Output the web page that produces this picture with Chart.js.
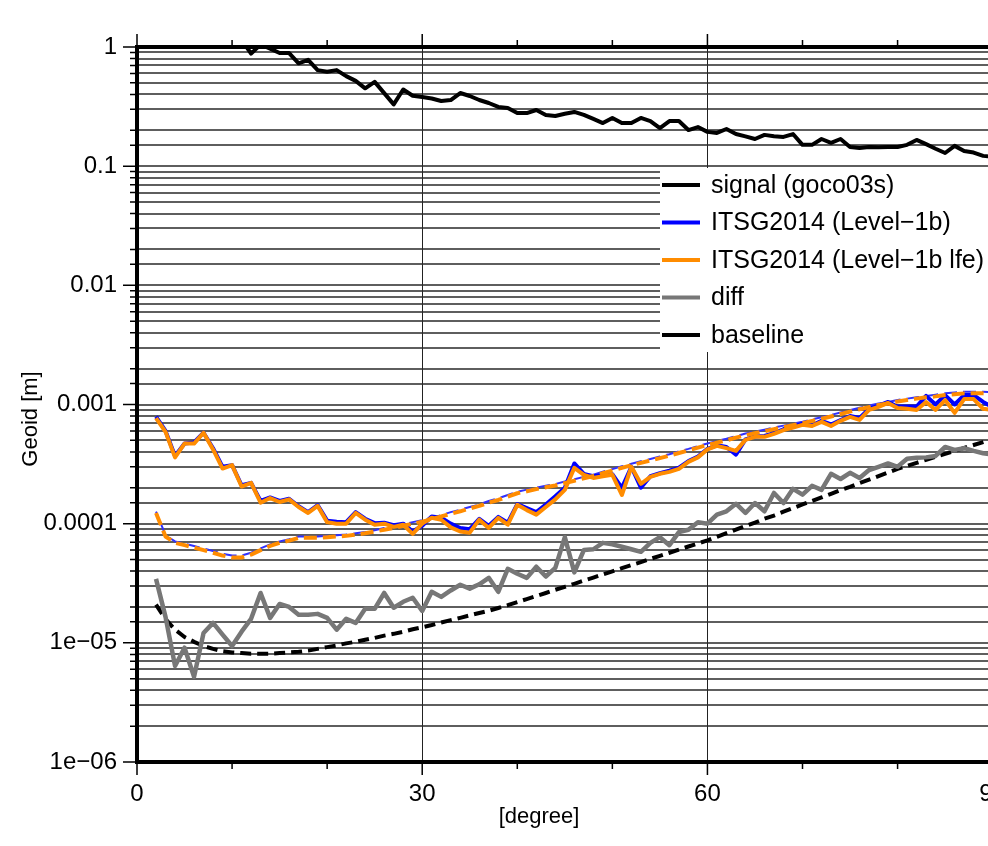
<!DOCTYPE html>
<html>
<head>
<meta charset="utf-8">
<script src="https://cdn.jsdelivr.net/npm/chart.js@4"></script>
<style>
  html, body { margin: 0; padding: 0; background: #fff; overflow: hidden; }
  canvas { display: block; }
</style>
</head>
<body>
<canvas id="myChart" width="1024" height="846"></canvas>
<script>
// degree axis (2..90)
const degrees = [2, 3, 4, 5, 6, 7, 8, 9, 10, 11, 12, 13, 14, 15, 16, 17, 18, 19, 20, 21,
  22, 23, 24, 25, 26, 27, 28, 29, 30, 31, 32, 33, 34, 35, 36, 37, 38, 39, 40, 41,
  42, 43, 44, 45, 46, 47, 48, 49, 50, 51, 52, 53, 54, 55, 56, 57, 58, 59, 60, 61,
  62, 63, 64, 65, 66, 67, 68, 69, 70, 71, 72, 73, 74, 75, 76, 77, 78, 79, 80, 81,
  82, 83, 84, 85, 86, 87, 88, 89, 90];

const signal = [30, 12, 6, 4, 3.2, 2.4, 1.9, 1.6, 1.35, 1.15,
  0.88, 1.05, 0.97, 0.89, 0.89, 0.73, 0.78, 0.64, 0.62, 0.64,
  0.57, 0.52, 0.45, 0.51, 0.41, 0.33, 0.44, 0.39, 0.38, 0.37,
  0.352, 0.359, 0.411, 0.388, 0.359, 0.339, 0.314, 0.308, 0.279, 0.279,
  0.296, 0.269, 0.264, 0.275, 0.285, 0.269, 0.249, 0.230, 0.254, 0.230,
  0.230, 0.254, 0.239, 0.209, 0.239, 0.239, 0.201, 0.213, 0.194, 0.190,
  0.205, 0.186, 0.178, 0.169, 0.183, 0.178, 0.176, 0.186, 0.151, 0.151,
  0.169, 0.157, 0.169, 0.145, 0.142, 0.145, 0.144, 0.145, 0.145, 0.151,
  0.166, 0.153, 0.14, 0.129, 0.148, 0.134, 0.13, 0.122, 0.12];

const level1b = [7.9e-4, 6.0e-4, 3.7e-4, 4.7e-4, 4.8e-4, 5.8e-4, 4.3e-4, 3.0e-4, 3.1e-4, 2.1e-4,
  2.2e-4, 1.55e-4, 1.66e-4, 1.55e-4, 1.62e-4, 1.4e-4, 1.25e-4, 1.43e-4, 1.06e-4, 1.04e-4,
  1.03e-4, 1.25e-4, 1.1e-4, 1.01e-4, 1.02e-4, 9.7e-5, 1.0e-4, 8.6e-5, 9.6e-5, 1.15e-4,
  1.12e-4, 1.0e-4, 9.2e-5, 9.0e-5, 1.1e-4, 9.6e-5, 1.14e-4, 1.02e-4, 1.46e-4, 1.35e-4,
  1.25e-4, 1.45e-4, 1.7e-4, 2.0e-4, 3.2e-4, 2.62e-4, 2.5e-4, 2.55e-4, 2.6e-4, 2.0e-4,
  3.0e-4, 2.0e-4, 2.5e-4, 2.65e-4, 2.78e-4, 2.95e-4, 3.35e-4, 3.65e-4, 4.25e-4, 4.55e-4,
  4.4e-4, 3.8e-4, 5.1e-4, 5.4e-4, 5.45e-4, 5.75e-4, 6.2e-4, 6.5e-4, 6.9e-4, 6.7e-4,
  7.3e-4, 6.8e-4, 7.4e-4, 8.0e-4, 7.7e-4, 9.2e-4, 9.8e-4, 1.05e-3, 9.6e-4, 9.6e-4,
  9.6e-4, 1.18e-3, 1.0e-3, 1.2e-3, 1.0e-3, 1.2e-3, 1.2e-3, 1.05e-3, 9.5e-4];

const level1bLfe = [7.7e-4, 5.9e-4, 3.6e-4, 4.7e-4, 4.7e-4, 5.8e-4, 4.2e-4, 2.9e-4, 3.1e-4, 2.05e-4,
  2.2e-4, 1.5e-4, 1.64e-4, 1.52e-4, 1.6e-4, 1.38e-4, 1.23e-4, 1.41e-4, 1.03e-4, 1.0e-4,
  1.0e-4, 1.23e-4, 1.08e-4, 9.8e-5, 1.0e-4, 9.4e-5, 9.8e-5, 8.2e-5, 1.0e-4, 1.12e-4,
  1.08e-4, 9.3e-5, 8.6e-5, 8.4e-5, 1.08e-4, 9.2e-5, 1.12e-4, 9.8e-5, 1.44e-4, 1.3e-4,
  1.19e-4, 1.38e-4, 1.6e-4, 1.92e-4, 2.94e-4, 2.57e-4, 2.42e-4, 2.5e-4, 2.57e-4, 1.74e-4,
  3.0e-4, 2.16e-4, 2.47e-4, 2.62e-4, 2.72e-4, 2.88e-4, 3.3e-4, 3.6e-4, 4.2e-4, 4.5e-4,
  4.3e-4, 4.08e-4, 5.05e-4, 5.35e-4, 5.35e-4, 5.67e-4, 6.1e-4, 6.4e-4, 6.75e-4, 6.6e-4,
  7.15e-4, 6.6e-4, 7.3e-4, 7.87e-4, 7.43e-4, 9.0e-4, 9.55e-4, 1.03e-3, 9.35e-4, 9.2e-4,
  9.0e-4, 1.05e-3, 9.0e-4, 1.09e-3, 8.5e-4, 1.11e-3, 1.11e-3, 9.2e-4, 9.0e-4];

// formal errors (dashed)
const level1bFormal = [1.26e-4, 8.0e-5, 7.1e-5, 6.8e-5, 6.5e-5, 6.2e-5, 5.9e-5, 5.6e-5, 5.4e-5, 5.4e-5,
  5.7e-5, 6.2e-5, 6.7e-5, 7.1e-5, 7.4e-5, 7.8e-5, 7.8e-5, 7.8e-5, 7.9e-5, 8.0e-5,
  8.1e-5, 8.3e-5, 8.5e-5, 8.8e-5, 9.2e-5, 9.5e-5, 9.9e-5, 1.03e-4, 1.07e-4, 1.12e-4,
  1.18e-4, 1.25e-4, 1.31e-4, 1.38e-4, 1.45e-4, 1.55e-4, 1.63e-4, 1.74e-4, 1.85e-4, 1.93e-4,
  2.01e-4, 2.08e-4, 2.15e-4, 2.26e-4, 2.36e-4, 2.47e-4, 2.58e-4, 2.73e-4, 2.87e-4, 3.03e-4,
  3.18e-4, 3.34e-4, 3.49e-4, 3.66e-4, 3.83e-4, 4.04e-4, 4.24e-4, 4.48e-4, 4.71e-4, 4.93e-4,
  5.16e-4, 5.43e-4, 5.7e-4, 5.91e-4, 6.14e-4, 6.4e-4, 6.65e-4, 6.91e-4, 7.18e-4, 7.5e-4,
  7.82e-4, 8.18e-4, 8.57e-4, 8.97e-4, 9.39e-4, 9.79e-4, 1.02e-3, 1.05e-3, 1.09e-3, 1.12e-3,
  1.15e-3, 1.18e-3, 1.21e-3, 1.24e-3, 1.26e-3, 1.28e-3, 1.28e-3, 1.28e-3, 1.27e-3];

const level1bLfeFormal = [1.23e-4, 7.8e-5, 6.9e-5, 6.6e-5, 6.3e-5, 6.0e-5, 5.7e-5, 5.4e-5, 5.2e-5, 5.2e-5,
  5.5e-5, 6.0e-5, 6.5e-5, 6.9e-5, 7.2e-5, 7.6e-5, 7.6e-5, 7.6e-5, 7.7e-5, 7.8e-5,
  7.9e-5, 8.1e-5, 8.3e-5, 8.6e-5, 8.9e-5, 9.2e-5, 9.6e-5, 1.0e-4, 1.04e-4, 1.09e-4,
  1.15e-4, 1.21e-4, 1.27e-4, 1.34e-4, 1.41e-4, 1.5e-4, 1.58e-4, 1.69e-4, 1.8e-4, 1.87e-4,
  1.95e-4, 2.02e-4, 2.09e-4, 2.19e-4, 2.29e-4, 2.4e-4, 2.51e-4, 2.65e-4, 2.79e-4, 2.94e-4,
  3.09e-4, 3.24e-4, 3.39e-4, 3.55e-4, 3.72e-4, 3.92e-4, 4.12e-4, 4.35e-4, 4.57e-4, 4.79e-4,
  5.01e-4, 5.27e-4, 5.53e-4, 5.74e-4, 5.96e-4, 6.21e-4, 6.46e-4, 6.71e-4, 6.97e-4, 7.28e-4,
  7.59e-4, 7.94e-4, 8.32e-4, 8.71e-4, 9.12e-4, 9.5e-4, 9.89e-4, 1.02e-3, 1.06e-3, 1.09e-3,
  1.12e-3, 1.15e-3, 1.17e-3, 1.2e-3, 1.22e-3, 1.24e-3, 1.24e-3, 1.24e-3, 1.23e-3];

const diff = [3.44e-5, 1.65e-5, 6.4e-6, 9.1e-6, 5.2e-6, 1.21e-5, 1.47e-5, 1.17e-5, 9.4e-6, 1.24e-5,
  1.59e-5, 2.62e-5, 1.62e-5, 2.12e-5, 2.0e-5, 1.72e-5, 1.72e-5, 1.75e-5, 1.62e-5, 1.29e-5,
  1.59e-5, 1.47e-5, 1.93e-5, 1.93e-5, 2.62e-5, 1.97e-5, 2.21e-5, 2.39e-5, 1.85e-5, 2.68e-5,
  2.43e-5, 2.75e-5, 3.07e-5, 2.85e-5, 3.1e-5, 3.51e-5, 2.68e-5, 4.18e-5, 3.8e-5, 3.51e-5,
  4.35e-5, 3.6e-5, 4.25e-5, 7.7e-5, 3.9e-5, 6.0e-5, 6.1e-5, 6.9e-5, 6.7e-5, 6.4e-5,
  6.1e-5, 5.8e-5, 6.9e-5, 7.7e-5, 6.6e-5, 8.5e-5, 8.9e-5, 1.03e-4, 1.0e-4, 1.19e-4,
  1.27e-4, 1.47e-4, 1.23e-4, 1.49e-4, 1.27e-4, 1.81e-4, 1.49e-4, 1.96e-4, 1.75e-4, 2.08e-4,
  1.92e-4, 2.62e-4, 2.37e-4, 2.67e-4, 2.42e-4, 2.82e-4, 3.0e-4, 3.2e-4, 3.0e-4, 3.5e-4,
  3.57e-4, 3.6e-4, 3.7e-4, 4.4e-4, 4.16e-4, 4.3e-4, 4.08e-4, 3.9e-4, 3.8e-4];

const baseline = [2.09e-5, 1.58e-5, 1.29e-5, 1.12e-5, 1.02e-5, 9.4e-6, 8.9e-6, 8.5e-6, 8.3e-6, 8.2e-6,
  8.1e-6, 8.1e-6, 8.1e-6, 8.2e-6, 8.3e-6, 8.4e-6, 8.6e-6, 8.9e-6, 9.2e-6, 9.5e-6,
  9.9e-6, 1.02e-5, 1.06e-5, 1.1e-5, 1.15e-5, 1.19e-5, 1.24e-5, 1.3e-5, 1.35e-5, 1.41e-5,
  1.48e-5, 1.55e-5, 1.62e-5, 1.7e-5, 1.78e-5, 1.86e-5, 1.96e-5, 2.07e-5, 2.2e-5, 2.33e-5,
  2.47e-5, 2.62e-5, 2.79e-5, 2.95e-5, 3.13e-5, 3.33e-5, 3.53e-5, 3.75e-5, 3.98e-5, 4.23e-5,
  4.49e-5, 4.76e-5, 5.06e-5, 5.37e-5, 5.7e-5, 6.05e-5, 6.43e-5, 6.82e-5, 7.24e-5, 7.76e-5,
  8.32e-5, 8.91e-5, 9.55e-5, 1.02e-4, 1.1e-4, 1.17e-4, 1.26e-4, 1.35e-4, 1.45e-4, 1.55e-4,
  1.66e-4, 1.78e-4, 1.91e-4, 2.04e-4, 2.19e-4, 2.34e-4, 2.51e-4, 2.69e-4, 2.88e-4, 3.05e-4,
  3.24e-4, 3.43e-4, 3.63e-4, 3.85e-4, 4.07e-4, 4.32e-4, 4.57e-4, 4.84e-4, 5.13e-4];

const xTickValues = [0, 30, 60, 90];
const yTickLabels = ['1e\u221206', '1e\u221205', '0.0001', '0.001', '0.01', '0.1', '1'];

const legendNames = ['signal (goco03s)', 'ITSG2014 (Level\u22121b)', 'ITSG2014 (Level\u22121b lfe)', 'diff', 'baseline'];
const legendColors = ['#000000', '#0000ff', '#ff8c00', '#777777', '#000000'];

const FONT = '"Liberation Sans", Arial, Helvetica, sans-serif';
const pts = vals => degrees.map((d, i) => ({ x: d, y: vals[i] }));
const isDecade = v => { const e = Math.log10(v); return Math.abs(e - Math.round(e)) < 1e-9; };

// legend box drawn inside the plot, on top of the grid
const legendBox = {
  id: 'legendBox',
  afterDatasetsDraw(chart) {
    const ctx = chart.ctx;
    ctx.save();
    ctx.fillStyle = '#fff';
    ctx.fillRect(660, 168, chart.width - 660, 184);
    ctx.font = '25px ' + FONT;
    ctx.textBaseline = 'middle';
    ctx.textAlign = 'left';
    legendNames.forEach((name, i) => {
      const y = 185 + i * 37.5;
      ctx.strokeStyle = legendColors[i];
      ctx.lineWidth = 4;
      ctx.beginPath();
      ctx.moveTo(662, y);
      ctx.lineTo(700, y);
      ctx.stroke();
      ctx.fillStyle = '#000';
      ctx.fillText(name, 711, y + 1);
    });
    ctx.restore();
  }
};

// outward tick marks (long on decades / multiples of 30) and the two axis titles
const axisDecor = {
  id: 'axisDecor',
  afterDraw(chart) {
    const ctx = chart.ctx;
    const { left, top, bottom } = chart.chartArea;
    const xs = chart.scales.x, ys = chart.scales.y;
    ctx.save();
    ctx.strokeStyle = '#000';
    ctx.lineWidth = 1.5;
    ctx.beginPath();
    ys.ticks.forEach(t => {
      const y = ys.getPixelForValue(t.value);
      const len = isDecade(t.value) ? 14 : 7;
      ctx.moveTo(left - len, y);
      ctx.lineTo(left, y);
    });
    xs.ticks.forEach(t => {
      const x = xs.getPixelForValue(t.value);
      const len = t.value % 30 === 0 ? 13 : 7;
      ctx.moveTo(x, bottom);
      ctx.lineTo(x, bottom + len);
      ctx.moveTo(x, top);
      ctx.lineTo(x, top - len);
    });
    ctx.stroke();

    ctx.fillStyle = '#000';
    ctx.font = '22px ' + FONT;
    ctx.textAlign = 'center';
    ctx.textBaseline = 'middle';
    ctx.fillText('[degree]', 539, 817);
    ctx.translate(31, 419);
    ctx.rotate(-Math.PI / 2);
    ctx.fillText('Geoid [m]', 0, 0);
    ctx.restore();
  }
};

const ctx = document.getElementById('myChart');
new Chart(ctx, {
  type: 'line',
  data: {
    datasets: [
      { label: 'signal (goco03s)', data: pts(signal), borderColor: '#000', borderWidth: 4 },
      { label: 'ITSG2014 (Level-1b lfe)', data: pts(level1bLfe), borderColor: '#ff8c00', borderWidth: 4 },
      { label: 'lfe formal', data: pts(level1bLfeFormal), borderColor: '#ff8c00', borderWidth: 4, borderDash: [13, 6] },
      { label: 'ITSG2014 (Level-1b)', data: pts(level1b), borderColor: '#0000ff', borderWidth: 4 },
      { label: 'formal', data: pts(level1bFormal), borderColor: '#3030ff', borderWidth: 2, borderDash: [13, 6], borderDashOffset: 8 },
      { label: 'diff', data: pts(diff), borderColor: '#777777', borderWidth: 4.5 },
      { label: 'baseline', data: pts(baseline), borderColor: '#000', borderWidth: 4, borderDash: [11, 6] }
    ]
  },
  options: {
    responsive: false,
    animation: false,
    devicePixelRatio: 1,
    layout: { padding: { left: 0, right: 16, top: 0, bottom: 0 } },
    elements: { point: { radius: 0 }, line: { tension: 0, borderJoinStyle: 'round', borderCapStyle: 'butt' } },
    plugins: { legend: { display: false }, tooltip: { enabled: false } },
    scales: {
      x: {
        type: 'linear', min: 0, max: 90,
        afterFit: s => { s.height = 84; },
        border: { color: '#000', width: 4 },
        grid: {
          drawTicks: false,
          lineWidth: 1,
          color: c => (c.tick && (c.tick.value === 30 || c.tick.value === 60)) ? '#222' : 'rgba(0,0,0,0)'
        },
        ticks: {
          stepSize: 10, autoSkip: false, maxRotation: 0, padding: 18, color: '#000',
          font: { size: 24, family: FONT },
          callback: v => xTickValues.includes(v) ? String(v) : ''
        }
      },
      x2: {
        type: 'linear', position: 'top', min: 0, max: 90,
        afterFit: s => { s.height = 47; },
        border: { color: '#000', width: 4 },
        grid: { display: false, drawTicks: false },
        ticks: { display: false }
      },
      y: {
        type: 'logarithmic', min: 1e-6, max: 1,
        afterFit: s => { s.width = 137; },
        border: { color: '#000', width: 4 },
        grid: { drawTicks: false, lineWidth: 2, color: 'rgba(40,40,40,0.75)' },
        ticks: {
          autoSkip: false, padding: 20, color: '#000',
          font: { size: 24, family: FONT },
          callback: v => isDecade(v) ? yTickLabels[Math.round(Math.log10(v)) + 6] : ''
        }
      }
    }
  },
  plugins: [legendBox, axisDecor]
});
</script>
</body>
</html>
